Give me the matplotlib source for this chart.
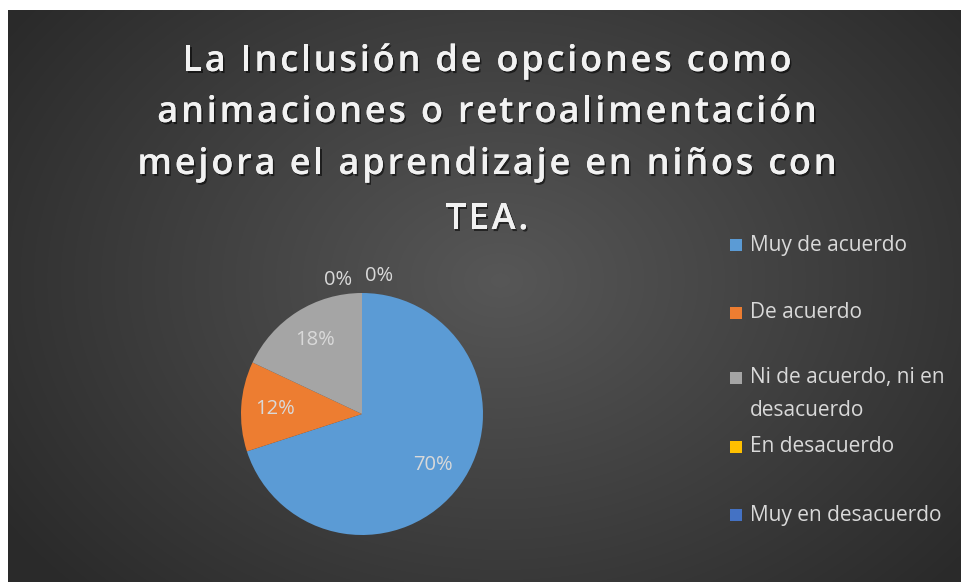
import numpy as np
import matplotlib
matplotlib.use("Agg")
import matplotlib.pyplot as plt
import matplotlib.patheffects as pe
from matplotlib.font_manager import FontProperties
from matplotlib.patches import Rectangle

W, H = 961, 582

TITLE_LINES = [
    "La Inclusión de opciones como",
    "animaciones o retroalimentación",
    "mejora el aprendizaje en niños con",
    "TEA.",
]
CATEGORIES = [
    "Muy de acuerdo",
    "De acuerdo",
    "Ni de acuerdo, ni en\ndesacuerdo",
    "En desacuerdo",
    "Muy en desacuerdo",
]
PERCENTS = [70, 12, 18, 0, 0]
COLORS = ["#5b9bd5", "#ed7d31", "#a5a5a5", "#ffc000", "#4472c4"]

# label offsets (axes units) for the empty slices, which sit above the pie
ZERO_OFFSETS = [(-0.20, 1.11), (0.14, 1.14)]
LEGEND_Y = [245, 313, 378, 447, 515]


def px(x, y):
    return x / W, 1 - y / H


def radial_bg(fig):
    ax = fig.add_axes([8 / W, 0, 1 - 8 / W, 1 - 10 / H])
    ax.set_axis_off()
    yy, xx = np.mgrid[10:H, 8:W]
    d = np.sqrt(((xx - 500) / 600.0) ** 2 + ((yy - 280) / 450.0) ** 2)
    d = np.clip(d, 0, 1)
    v = 0.34 - (0.34 - 0.165) * d ** 1.0
    img = np.dstack([v, v, v])
    ax.imshow(img, aspect="auto", extent=(0, 1, 0, 1), interpolation="bilinear")
    ax.set_xlim(0, 1)
    ax.set_ylim(0, 1)
    return ax


def tracked_line(fig, text, cx, baseline, prop, track, **kw):
    r = fig.canvas.get_renderer()

    def width(s):
        return r.get_text_width_height_descent(s, prop, ismath=False)[0]

    bar = width("|")
    xs = [0.0] + [width(text[:i] + "|") - bar for i in range(1, len(text))]
    xs = [x + i * track for i, x in enumerate(xs)]
    total = xs[-1] + width(text[-1])
    x0 = cx - total / 2
    for ch, x in zip(text, xs):
        if ch == " ":
            continue
        fig.text(*px(x0 + x, baseline), ch, fontproperties=prop,
                 ha="left", va="baseline", **kw)


fig = plt.figure(figsize=(W / 100, H / 100), dpi=100, facecolor="white")
radial_bg(fig)

title_prop = FontProperties(family=["Open Sans", "DejaVu Sans"], weight="semibold", size=26)
shadow = [pe.withSimplePatchShadow(offset=(1.2, -1.5), shadow_rgbFace="black", alpha=0.55),
          pe.Normal()]
for line, base in zip(TITLE_LINES, [71, 122, 174, 229]):
    tracked_line(fig, line, 487, base, title_prop, 2.8, color="#f2f2f2",
                 path_effects=shadow)

# pie
cx, cy, rad = 362, 414, 121
ax = fig.add_axes([(cx - rad) / W, (H - cy - rad) / H, 2 * rad / W, 2 * rad / H])
wedges, _ = ax.pie(PERCENTS, colors=COLORS, startangle=90, counterclock=False,
                   radius=1, wedgeprops=dict(linewidth=0))
ax.set_xlim(-1, 1)
ax.set_ylim(-1, 1)
ax.set_aspect("equal")
ax.set_axis_off()

label_font = dict(family=["Open Sans", "DejaVu Sans"], size=14.5, color="#d9d9d9")
zi = 0
for w, p in zip(wedges, PERCENTS):
    if p > 0:
        mid = np.deg2rad((w.theta1 + w.theta2) / 2)
        ax.text(0.72 * np.cos(mid), 0.72 * np.sin(mid), f"{p}%",
                ha="center", va="center", **label_font)
    else:
        dx, dy = ZERO_OFFSETS[zi]
        zi += 1
        ax.text(dx, dy, f"{p}%", ha="center", va="center", **label_font)

# legend
leg_font = dict(family=["Open Sans", "DejaVu Sans"], size=15, color="#d9d9d9")
for name, col, y in zip(CATEGORIES, COLORS, LEGEND_Y):
    fig.patches.append(Rectangle(px(730, y + 6), 12 / W, 12 / H, facecolor=col,
                                 edgecolor="none", transform=fig.transFigure))
    for k, part in enumerate(name.split("\n")):
        fig.text(*px(750, y + 32 * k), part, ha="left", va="center", **leg_font)

fig.savefig("out.png", dpi=100, facecolor=fig.get_facecolor())
